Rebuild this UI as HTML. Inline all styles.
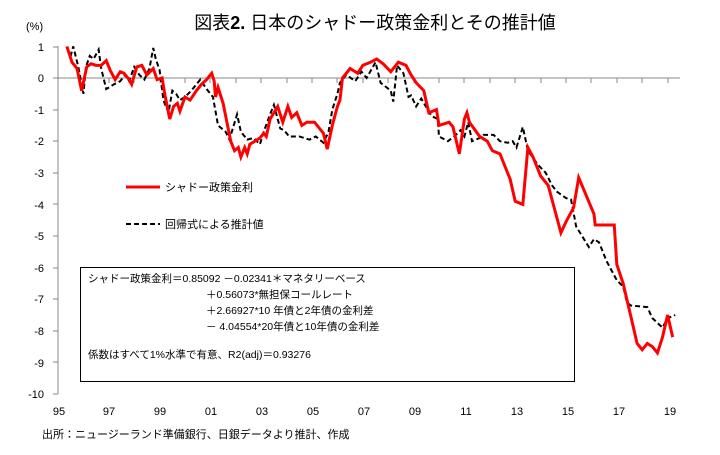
<!DOCTYPE html>
<html><head><meta charset="utf-8"><style>
body{margin:0;background:#fff;}
svg text{font-family:"Liberation Sans","Noto Sans CJK JP",sans-serif;}
</style></head><body>
<svg width="720" height="450" xmlns="http://www.w3.org/2000/svg">
<rect width="720" height="450" fill="#fff"/>
<text x="375" y="29" font-size="18" text-anchor="middle">図表<tspan font-weight="bold">2.</tspan> 日本のシャドー政策金利とその推計値</text>
<text x="26" y="30" font-size="11">(%)</text>
<g font-size="11" text-anchor="end">
<text x="44" y="51">1</text><text x="44" y="82">0</text><text x="44" y="114">-1</text><text x="44" y="145">-2</text><text x="44" y="177">-3</text><text x="44" y="209">-4</text><text x="44" y="240">-5</text><text x="44" y="272">-6</text><text x="44" y="303">-7</text><text x="44" y="335">-8</text><text x="44" y="367">-9</text><text x="44" y="398">-10</text>
</g>
<g stroke="#888" stroke-width="1">
<line x1="58" y1="46" x2="58" y2="394"/>
<line x1="58" y1="78" x2="680" y2="78"/>
<line x1="53" y1="47" x2="58" y2="47"/><line x1="53" y1="78" x2="58" y2="78"/><line x1="53" y1="110" x2="58" y2="110"/><line x1="53" y1="141" x2="58" y2="141"/><line x1="53" y1="173" x2="58" y2="173"/><line x1="53" y1="204" x2="58" y2="204"/><line x1="53" y1="236" x2="58" y2="236"/><line x1="53" y1="268" x2="58" y2="268"/><line x1="53" y1="299" x2="58" y2="299"/><line x1="53" y1="331" x2="58" y2="331"/><line x1="53" y1="362" x2="58" y2="362"/><line x1="53" y1="394" x2="58" y2="394"/>
<line x1="83" y1="78" x2="83" y2="83"/><line x1="109" y1="78" x2="109" y2="83"/><line x1="134" y1="78" x2="134" y2="83"/><line x1="160" y1="78" x2="160" y2="83"/><line x1="185" y1="78" x2="185" y2="83"/><line x1="210" y1="78" x2="210" y2="83"/><line x1="236" y1="78" x2="236" y2="83"/><line x1="261" y1="78" x2="261" y2="83"/><line x1="287" y1="78" x2="287" y2="83"/><line x1="312" y1="78" x2="312" y2="83"/><line x1="337" y1="78" x2="337" y2="83"/><line x1="363" y1="78" x2="363" y2="83"/><line x1="388" y1="78" x2="388" y2="83"/><line x1="414" y1="78" x2="414" y2="83"/><line x1="439" y1="78" x2="439" y2="83"/><line x1="464" y1="78" x2="464" y2="83"/><line x1="490" y1="78" x2="490" y2="83"/><line x1="515" y1="78" x2="515" y2="83"/><line x1="541" y1="78" x2="541" y2="83"/><line x1="566" y1="78" x2="566" y2="83"/><line x1="591" y1="78" x2="591" y2="83"/><line x1="617" y1="78" x2="617" y2="83"/><line x1="642" y1="78" x2="642" y2="83"/><line x1="668" y1="78" x2="668" y2="83"/>
</g>
<g font-size="11" text-anchor="middle">
<text x="59" y="415">95</text><text x="109" y="415">97</text><text x="160" y="415">99</text><text x="211" y="415">01</text><text x="262" y="415">03</text><text x="313" y="415">05</text><text x="364" y="415">07</text><text x="415" y="415">09</text><text x="466" y="415">11</text><text x="517" y="415">13</text><text x="568" y="415">15</text><text x="619" y="415">17</text><text x="670" y="415">19</text>
</g>
<g transform="translate(58,78) scale(25.4,-31.6)">
<polyline fill="none" stroke="#000" stroke-width="2" stroke-dasharray="5,3" vector-effect="non-scaling-stroke" points="0.35,0.95 0.5,0.7 0.6,1.0 0.8,0.35 1.0,-0.5 1.1,0.35 1.25,0.7 1.4,0.6 1.6,0.9 1.7,0.3 1.9,-0.35 2.2,-0.2 2.45,-0.1 2.65,0.1 2.8,-0.1 3.0,0.35 3.2,0.1 3.4,-0.05 3.6,0.3 3.75,0.95 3.85,0.6 4.0,0.25 4.15,-0.7 4.35,-1.1 4.5,-0.4 4.65,-0.5 4.8,-0.7 5.0,-0.6 5.25,-0.4 5.6,-0.05 5.85,-0.35 6.1,-0.6 6.3,-1.5 6.6,-1.7 6.75,-1.95 7.05,-1.15 7.2,-1.7 7.45,-1.95 7.7,-1.9 7.95,-2.1 8.1,-1.7 8.35,-1.15 8.5,-0.85 8.75,-1.6 8.9,-1.65 9.1,-1.85 9.5,-1.85 9.9,-1.95 10.15,-1.85 10.45,-2.05 10.65,-1.7 10.8,-1.0 11.0,-0.5 11.1,-0.15 11.35,0.1 11.7,-0.1 11.95,0.2 12.15,0 12.5,0.5 12.7,-0.15 13.1,-0.4 13.2,-0.75 13.35,0.4 13.6,0.15 13.8,-0.6 13.9,-0.55 14.1,-0.9 14.3,-0.65 14.7,-1.2 14.95,-1.3 15.0,-1.85 15.35,-2.0 15.6,-1.85 15.85,-1.65 16.0,-1.85 16.15,-1.4 16.3,-2.0 16.6,-1.9 16.75,-1.8 17.15,-1.8 17.4,-2.0 17.7,-2.05 17.9,-2.0 18.05,-2.2 18.3,-1.55 18.5,-2.3 18.9,-2.75 19.2,-3.0 19.45,-3.4 19.65,-3.6 20.0,-3.8 20.2,-3.85 20.4,-4.7 20.9,-5.35 21.1,-5.1 21.3,-5.2 21.6,-5.8 22.0,-6.4 22.25,-6.6 22.4,-7.1 22.55,-7.2 23.2,-7.25 23.4,-7.6 23.8,-7.9 24.0,-7.6 24.3,-7.5"/>
<polyline fill="none" stroke="#f00" stroke-width="3" vector-effect="non-scaling-stroke" points="0.35,1.0 0.55,0.5 0.75,0.3 0.93,-0.4 1.13,0.35 1.3,0.45 1.5,0.4 1.7,0.4 1.9,0.55 2.05,0.25 2.25,-0.05 2.45,0.2 2.6,0.15 2.8,-0.05 2.9,-0.2 3.1,0.35 3.3,0.4 3.5,0.1 3.75,0.3 3.9,-0.05 4.1,0 4.2,-0.5 4.4,-1.3 4.55,-0.9 4.7,-0.8 4.8,-1.05 5.0,-0.6 5.2,-0.7 5.45,-0.4 5.65,-0.2 5.85,-0.05 6.05,0.15 6.15,-0.1 6.2,-0.6 6.3,-0.3 6.5,-0.8 6.8,-2.0 6.95,-2.3 7.1,-2.2 7.2,-2.5 7.35,-2.2 7.45,-2.4 7.55,-2.1 7.95,-1.9 8.1,-1.75 8.2,-1.85 8.35,-1.3 8.65,-0.9 8.85,-1.4 9.05,-0.9 9.2,-1.25 9.4,-1.1 9.6,-1.5 9.8,-1.4 10.1,-1.4 10.3,-1.6 10.45,-1.75 10.6,-2.25 10.8,-1.5 11.0,-0.9 11.1,-0.7 11.2,0 11.5,0.3 11.8,0.15 12.0,0.4 12.3,0.5 12.55,0.6 12.8,0.45 13.1,0.2 13.4,0.5 13.7,0.4 13.9,0.1 14.1,-0.15 14.4,-0.4 14.6,-1.1 14.9,-1.0 15.0,-1.5 15.4,-1.4 15.55,-1.55 15.8,-2.4 16.0,-1.3 16.1,-1.1 16.2,-1.4 16.6,-1.85 16.9,-2.0 17.1,-2.3 17.4,-2.4 17.7,-3.0 17.8,-3.2 18.0,-3.9 18.3,-4.0 18.5,-2.2 18.7,-2.5 19.0,-3.1 19.3,-3.4 19.6,-4.3 19.8,-4.9 20.0,-4.55 20.3,-4.1 20.5,-3.15 21.1,-4.3 21.15,-4.65 21.9,-4.65 22.0,-5.9 22.25,-6.5 22.8,-8.4 23.0,-8.6 23.2,-8.4 23.4,-8.5 23.6,-8.7 23.8,-8.2 24.0,-7.5 24.2,-8.2"/>
</g>
<line x1="126" y1="187" x2="160" y2="187" stroke="#f00" stroke-width="3"/>
<text x="165" y="191" font-size="11">シャドー政策金利</text>
<line x1="126" y1="224" x2="160" y2="224" stroke="#000" stroke-width="2" stroke-dasharray="5,3"/>
<text x="165" y="228" font-size="11">回帰式による推計値</text>
<rect x="80.5" y="267.5" width="494" height="114" fill="#fff" stroke="#000" stroke-width="1"/>
<g font-size="10.5">
<text x="88" y="282">シャドー政策金利＝0.85092 －0.02341＊マネタリーベース</text>
<text x="206" y="298">＋0.56073*無担保コールレート</text>
<text x="206" y="314">＋2.66927*10 年債と2年債の金利差</text>
<text x="206" y="330">－ 4.04554*20年債と10年債の金利差</text>
<text x="88" y="358">係数はすべて1%水準で有意、R2(adj)＝0.93276</text>
</g>
<text x="42" y="438" font-size="11">出所：ニュージーランド準備銀行、日銀データより推計、作成</text>
</svg>
</body></html>
